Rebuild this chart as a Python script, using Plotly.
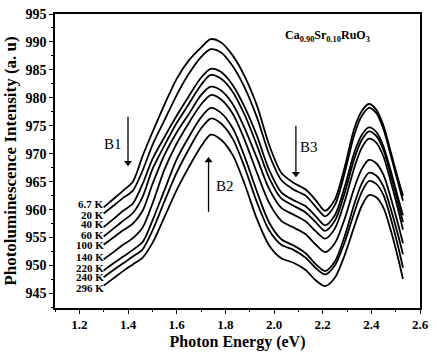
import plotly.graph_objects as go

# ---- data ----
energy = [1.30, 1.34, 1.38, 1.42, 1.46, 1.50, 1.55, 1.60, 1.65, 1.70, 1.74,
          1.78, 1.83, 1.88, 1.93, 1.98, 2.03, 2.08, 2.13, 2.17, 2.21,
          2.25, 2.29, 2.33, 2.36, 2.39, 2.42, 2.45, 2.48, 2.51, 2.53]

temps = ["6.7 K", "20 K", "40 K", "60 K", "100 K", "140 K", "220 K", "240 K", "296 K"]

pl_6_7K = [960.4, 961.9, 963.4, 965.0, 969.6, 973.8, 978.8, 983.4, 986.7, 989.0, 990.5,
           990.0, 987.6, 983.8, 978.6, 971.6, 966.6, 964.8, 963.6, 961.8, 959.8,
           961.8, 967.5, 974.5, 977.6, 978.9, 977.9, 975.0, 970.3, 965.5, 962.5]
pl_20K = [959.3, 960.7, 962.1, 963.4, 967.0, 971.5, 976.0, 980.5, 984.3, 987.3, 988.7,
          988.2, 985.7, 981.8, 976.5, 969.9, 965.3, 963.6, 962.5, 960.6, 958.8,
          960.8, 966.5, 973.4, 976.7, 978.2, 977.3, 974.4, 969.7, 964.8, 961.6]
pl_40K = [956.9, 958.3, 959.8, 961.1, 964.6, 969.0, 973.0, 976.8, 980.3, 983.6, 985.2,
          984.7, 982.3, 978.3, 973.2, 967.1, 963.1, 961.7, 960.6, 958.9, 957.2,
          959.0, 964.0, 970.2, 973.3, 974.7, 973.9, 971.3, 966.9, 962.1, 959.0]
pl_60K = [955.2, 956.6, 958.0, 959.4, 962.3, 967.2, 971.5, 975.5, 978.9, 982.3, 984.1,
          983.5, 981.1, 976.9, 971.5, 965.7, 962.0, 960.7, 959.5, 957.8, 956.2,
          958.0, 962.9, 969.1, 972.4, 974.0, 973.2, 970.7, 966.2, 961.2, 957.8]
pl_100K = [953.7, 955.0, 956.3, 957.5, 959.8, 964.5, 969.8, 973.8, 977.1, 980.5, 982.0,
           981.4, 978.9, 974.5, 969.2, 963.7, 960.3, 959.1, 957.9, 956.2, 954.8,
           956.6, 961.4, 967.5, 971.0, 972.7, 972.0, 969.5, 965.0, 960.0, 956.4]
pl_140K = [951.1, 952.4, 953.7, 954.9, 956.8, 961.0, 967.2, 971.8, 975.5, 978.8, 980.5,
           979.8, 977.2, 972.4, 966.6, 961.2, 958.0, 956.8, 955.6, 953.8, 952.4,
           954.0, 958.3, 963.9, 967.2, 968.9, 968.3, 966.2, 962.1, 957.4, 954.0]
pl_220K = [949.1, 950.4, 951.6, 952.8, 954.2, 958.0, 963.5, 969.0, 973.0, 976.5, 978.2,
           977.4, 974.6, 969.4, 963.2, 957.7, 954.7, 953.6, 952.2, 950.3, 949.0,
           950.7, 955.2, 961.0, 964.6, 966.6, 966.1, 964.1, 960.1, 955.4, 952.0]
pl_240K = [947.9, 949.2, 950.4, 951.6, 952.9, 956.2, 961.5, 966.6, 970.8, 974.5, 976.3,
           975.5, 972.7, 967.5, 961.3, 956.3, 953.7, 952.8, 951.4, 949.6, 948.4,
           950.0, 954.1, 959.5, 963.1, 965.1, 964.6, 962.6, 958.4, 953.4, 949.6]
pl_296K = [946.4, 947.7, 949.0, 950.2, 951.4, 954.0, 958.7, 963.5, 967.6, 971.3, 973.4,
           972.6, 969.8, 964.5, 958.3, 953.6, 951.3, 950.5, 949.2, 947.4, 946.3,
           947.8, 951.8, 957.0, 960.6, 962.6, 962.2, 960.3, 956.3, 951.3, 947.6]

series = [pl_6_7K, pl_20K, pl_40K, pl_60K, pl_100K, pl_140K, pl_220K, pl_240K, pl_296K]
label_y = [961.0, 959.1, 957.4, 955.4, 953.6, 951.5, 949.6, 947.9, 945.9]

x_ticks = [1.2, 1.4, 1.6, 1.8, 2.0, 2.2, 2.4, 2.6]
y_ticks = [945, 950, 955, 960, 965, 970, 975, 980, 985, 990, 995]

FONT = "Liberation Serif, Times New Roman, serif"

fig = go.Figure()
for name, ys in zip(temps, series):
    fig.add_trace(go.Scatter(x=energy, y=ys, mode="lines", name=name,
                             line=dict(color="black", width=1.8, shape="spline", smoothing=0.8),
                             showlegend=False, hoverinfo="skip"))

annotations = []
for name, ly in zip(temps, label_y):
    annotations.append(dict(x=energy[0], y=ly, xref="x", yref="y", text=name,
                            showarrow=False, xanchor="right", yanchor="middle", xshift=1,
                            borderpad=0,
                            font=dict(family=FONT, size=11, color="black", weight="bold")))

# band markers: shaft (from, to) and head direction
band_arrows = [
    (1.40, 976.6, 968.4, "triangle-down"),
    (1.731, 959.6, 968.8, "triangle-up"),
    (2.09, 975.0, 966.4, "triangle-down"),
]
shapes = []
for ax_, y_from, y_head, sym in band_arrows:
    shapes.append(dict(type="line", xref="x", yref="y", x0=ax_, x1=ax_, y0=y_from, y1=y_head,
                       line=dict(color="black", width=1.3)))
    fig.add_trace(go.Scatter(x=[ax_], y=[y_head], mode="markers", showlegend=False,
                             hoverinfo="skip",
                             marker=dict(symbol=sym, size=7, color="black",
                                         line=dict(width=0))))

for txt, tx, ty in [("B1", 1.337, 971.8), ("B2", 1.80, 964.2), ("B3", 2.145, 971.2)]:
    annotations.append(dict(x=tx, y=ty, xref="x", yref="y", text=txt, showarrow=False,
                            font=dict(family=FONT, size=15, color="black")))

annotations.append(dict(x=2.22, y=991.0, xref="x", yref="y",
                        text="<b>Ca<sub>0.90</sub>Sr<sub>0.10</sub>RuO<sub>3</sub></b>",
                        showarrow=False,
                        font=dict(family=FONT, size=12, color="black", weight="bold")))

axis_common = dict(showline=True, linecolor="black", linewidth=1.5, mirror=True,
                   ticks="outside", ticklen=4, tickwidth=1.2, tickcolor="black",
                   showgrid=False, zeroline=False)

fig.update_layout(
    width=436, height=356,
    margin=dict(l=55, r=9, t=7, b=48),
    paper_bgcolor="white", plot_bgcolor="white",
    xaxis=dict(range=[1.1, 2.6], tickvals=x_ticks, ticktext=[f"{v:.1f}" for v in x_ticks],
               minor=dict(dtick=0.1, tick0=1.1, ticks="outside", ticklen=2.5, tickcolor="black"),
               tickfont=dict(family=FONT, size=13, color="black", weight="bold"),
               title=dict(text="Photon Energy (eV)", standoff=4,
                          font=dict(family=FONT, size=16, color="black", weight="bold")),
               **axis_common),
    yaxis=dict(range=[942.4, 995], tickvals=y_ticks,
               minor=dict(dtick=2.5, tick0=945, ticks="outside", ticklen=2.5, tickcolor="black"),
               tickfont=dict(family=FONT, size=14, color="black", weight="bold"),
               title=dict(text="Photoluminescence Intensity (a. u)", standoff=5,
                          font=dict(family=FONT, size=17, color="black", weight="bold")),
               **axis_common),
    annotations=annotations,
    shapes=shapes,
)

fig.write_html("out.html", config={"displayModeBar": False},
               post_script="document.body.style.margin='0';document.body.style.padding='0';"
                           "document.body.style.overflow='hidden';")
